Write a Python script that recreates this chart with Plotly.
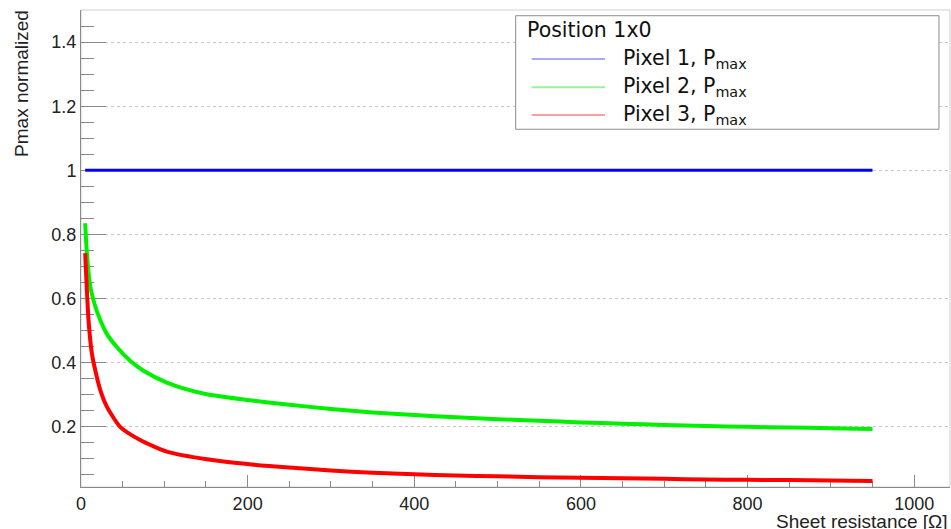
import plotly.graph_objects as go

# Sheet resistance [Ohm] and normalized Pmax for the three pixels (position 1x0)
pixel1_r = [5, 950]
pixel1_pmax = [1.0, 1.0]

pixel2_r = [5, 7, 11, 17, 23, 31, 43, 59, 75, 103, 127, 151, 200, 250, 300,
            350, 400, 450, 500, 550, 600, 650, 700, 750, 800, 850, 900, 950]
pixel2_pmax = [0.835, 0.744, 0.640, 0.577, 0.534, 0.490, 0.449, 0.406, 0.375,
               0.338, 0.317, 0.302, 0.284, 0.269, 0.256, 0.245, 0.237, 0.230,
               0.224, 0.219, 0.214, 0.210, 0.206, 0.203, 0.200, 0.198, 0.196,
               0.193]

pixel3_r = [5, 9, 13, 17, 23, 31, 47, 71, 103, 151, 200, 250, 300, 350, 400,
            450, 500, 550, 600, 650, 700, 750, 800, 850, 900, 950]
pixel3_pmax = [0.742, 0.534, 0.430, 0.378, 0.316, 0.263, 0.200, 0.159, 0.123,
               0.099, 0.084, 0.073, 0.064, 0.057, 0.052, 0.048, 0.046, 0.043,
               0.041, 0.040, 0.038, 0.036, 0.035, 0.034, 0.033, 0.031]

series_names = ["Pixel 1, P<sub>max</sub>", "Pixel 2, P<sub>max</sub>",
                "Pixel 3, P<sub>max</sub>"]
line_colors = ["#0000ff", "#00f000", "#ff0000"]
legend_colors = ["#a8a8ff", "#9ef09e", "#ff9e9e"]
legend_title = "Position 1x0"

FONT = "Liberation Sans, Arial, Helvetica, sans-serif"
LEGEND_FONT = "DejaVu Sans, Liberation Sans, sans-serif"

fig = go.Figure()
for xs, ys, color, width in [(pixel1_r, pixel1_pmax, line_colors[0], 3),
                             (pixel2_r, pixel2_pmax, line_colors[1], 4),
                             (pixel3_r, pixel3_pmax, line_colors[2], 4)]:
    fig.add_trace(go.Scatter(x=xs, y=ys, mode="lines",
                             line=dict(color=color, width=width,
                                       shape="spline", smoothing=0.6),
                             showlegend=False, hoverinfo="x+y"))

axis_gray = "#8a8a8a"

fig.update_xaxes(
    range=[0, 1043], showgrid=False, zeroline=False,
    showline=True, linecolor=axis_gray, linewidth=1,
    ticks="inside", ticklen=12, tickcolor=axis_gray, tickwidth=1,
    tick0=0, dtick=200, layer="below traces",
    minor=dict(ticks="inside", ticklen=6, tickcolor=axis_gray, dtick=50,
               tick0=0, showgrid=False),
    tickfont=dict(family=FONT, size=18, color="#222"),
)
fig.update_yaxes(
    range=[0.0125, 1.5], zeroline=False,
    showgrid=True, gridcolor="#c8c8c8", griddash="dot", gridwidth=1,
    showline=True, linecolor=axis_gray, linewidth=1,
    ticks="inside", ticklen=25, tickcolor=axis_gray, tickwidth=1,
    tick0=0, dtick=0.2, layer="below traces",
    minor=dict(ticks="inside", ticklen=13, tickcolor=axis_gray, dtick=0.05,
               tick0=0, showgrid=False),
    tickfont=dict(family=FONT, size=18, color="#222"),
)

# light frame around the plotting area
fig.add_shape(type="rect", xref="paper", yref="paper", x0=0, x1=1, y0=0, y1=1,
              line=dict(color="#cfcfcf", width=1), layer="below")

annotations = [
    dict(text="Pmax normalized", xref="paper", yref="paper",
         x=-0.068, y=0.847, xanchor="center", yanchor="middle",
         textangle=-90, showarrow=False,
         font=dict(family=FONT, size=19, color="#222")),
    dict(text="Sheet resistance [\u03a9]", xref="paper", yref="paper",
         x=1.0, y=-0.0713, xanchor="right", yanchor="middle",
         showarrow=False, font=dict(family=FONT, size=19, color="#222")),
]

# legend box
fig.add_shape(type="rect", xref="paper", yref="paper",
              x0=0.5002, x1=0.9873, y0=0.750, y1=0.988,
              line=dict(color="#8c8c8c", width=1), fillcolor="white",
              layer="above")
annotations.append(dict(text=legend_title, xref="paper", yref="paper",
                        x=0.5110, y=0.9591, xanchor="left", yanchor="middle",
                        showarrow=False,
                        font=dict(family=LEGEND_FONT, size=20.5, color="#111")))
entry_y = [0.8973, 0.838, 0.780]
for name, color, yy in zip(series_names, legend_colors, entry_y):
    fig.add_shape(type="line", xref="paper", yref="paper",
                  x0=0.5187, x1=0.603, y0=yy, y1=yy,
                  line=dict(color=color, width=2), layer="above")
    annotations.append(dict(text=name, xref="paper", yref="paper",
                            x=0.6215, y=yy, xanchor="left",
                            yanchor="middle", showarrow=False,
                            font=dict(family=LEGEND_FONT, size=20.5,
                                      color="#111")))

fig.update_layout(
    width=951, height=529,
    margin=dict(l=81, r=1, t=10, b=42),
    paper_bgcolor="white", plot_bgcolor="white",
    annotations=annotations,
    showlegend=False,
)

fig.write_html("out.html")
